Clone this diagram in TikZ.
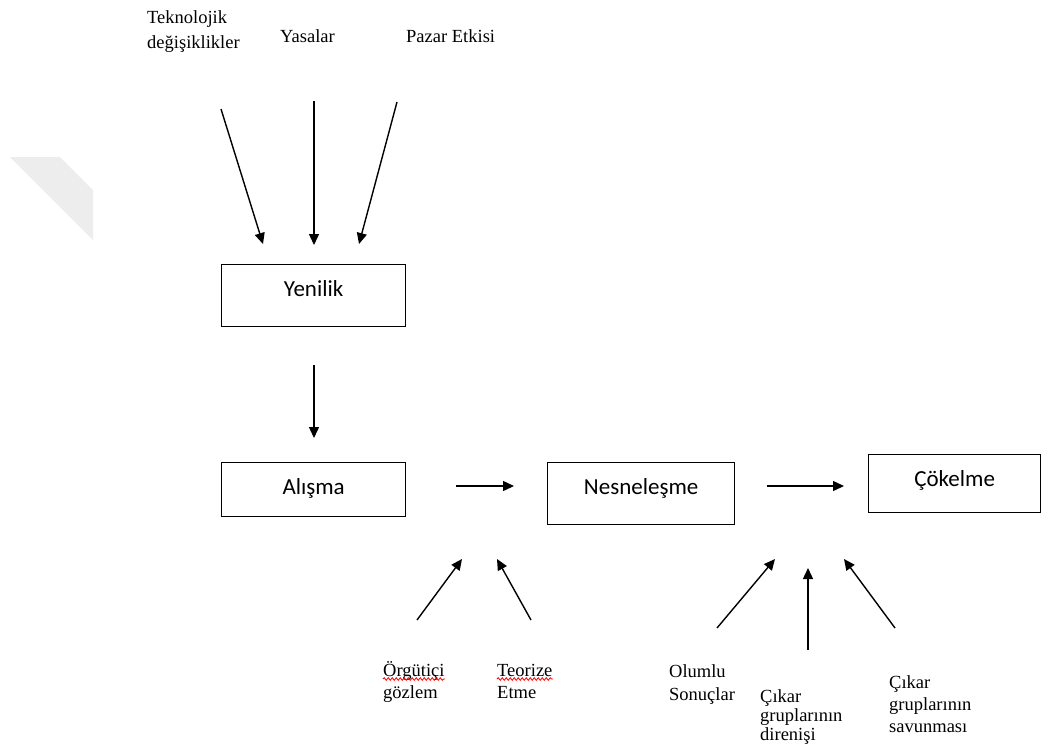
\documentclass[tikz,border=0pt]{standalone}
\usepackage{fontspec}
\setmainfont{Liberation Serif}
\newfontfamily\kutufont{Carlito}
\usetikzlibrary{arrows.meta,decorations.pathmorphing}
\begin{document}
\begin{tikzpicture}[x=1pt,y=-1pt,
  etiket/.style={anchor=base west, inner sep=0pt, align=left, font=\fontsize{18.5}{22}\selectfont},
  kutu/.style={draw, line width=1.3pt, anchor=north west, inner sep=0pt, text height=32pt, font=\kutufont\fontsize{23}{28}\selectfont},
  ok/.style={line width=1.4pt, -{Triangle[length=11pt,width=10pt]}},
  dalga/.style={red, line width=0.8pt, decorate, decoration={snake, amplitude=1.3pt, segment length=4pt}}]
\useasboundingbox (0,0) rectangle (1049,745);

% soluk filigran
\fill[black!7] (10,157) -- (60,157) -- (93,190) -- (93,240) -- cycle;

% ust etiketler (base = son satir)
\node[etiket, font=\fontsize{18.5}{25}\selectfont] (teknoloji) at (147,48) {Teknolojik\\değişiklikler};
\node[etiket] (yasalar) at (280,42) {Yasalar};
\node[etiket] (pazar) at (406,42) {Pazar Etkisi};

% kutular
\node[kutu, minimum width=184pt, text depth=30pt] (yenilik) at (221,264) {Yenilik};
\node[kutu, minimum width=184pt, text depth=22pt] (alisma) at (221,462) {Alışma};
\node[kutu, minimum width=187pt, text depth=30pt] (nesne) at (547,462) {Nesneleşme};
\node[kutu, minimum width=172pt, text depth=26pt] (cokelme) at (868,454) {Çökelme};

% alt etiketler
\node[etiket] (orgut) at (383,698) {Örgütiçi\\gözlem};
\node[etiket] (teori) at (497,698) {Teorize\\Etme};
\node[etiket, font=\fontsize{18.5}{23}\selectfont] (olumlu) at (669,700) {Olumlu\\Sonuçlar};
\node[etiket, font=\fontsize{18.5}{19}\selectfont] (direnis) at (760,740) {Çıkar\\gruplarının\\direnişi};
\node[etiket] (savunma) at (889,732) {Çıkar\\gruplarının\\savunması};

% yazim denetimi cizgileri
\draw[dalga] ([yshift=19pt]orgut.base west) -- ++(62,0);
\draw[dalga] ([yshift=19pt]teori.base west) -- ++(56,0);

% ok uclari
\coordinate (tek-a) at (221,109);  \coordinate (tek-b) at (263,244);
\coordinate (yas-a) at (314,101);  \coordinate (yas-b) at (314,245);
\coordinate (paz-a) at (397,102);  \coordinate (paz-b) at (359,244);
\coordinate (yen-a) at (314,365);  \coordinate (yen-b) at (314,438);
\coordinate (ali-a) at (456,486);  \coordinate (ali-b) at (514,486);
\coordinate (nes-a) at (767,486);  \coordinate (nes-b) at (844,486);
\coordinate (org-a) at (417,620);  \coordinate (org-b) at (462,559);
\coordinate (teo-a) at (531,620);  \coordinate (teo-b) at (497,559);
\coordinate (olu-a) at (717,628);  \coordinate (olu-b) at (775,559);
\coordinate (dir-a) at (808,650);  \coordinate (dir-b) at (808,568);
\coordinate (sav-a) at (895,628);  \coordinate (sav-b) at (844,559);

% oklar
\draw[ok] (tek-a) -- (tek-b);
\draw[ok] (yas-a) -- (yas-b);
\draw[ok] (paz-a) -- (paz-b);
\draw[ok] (yen-a) -- (yen-b);
\draw[ok] (ali-a) -- (ali-b);
\draw[ok] (nes-a) -- (nes-b);
\draw[ok] (org-a) -- (org-b);
\draw[ok] (teo-a) -- (teo-b);
\draw[ok] (olu-a) -- (olu-b);
\draw[ok] (dir-a) -- (dir-b);
\draw[ok] (sav-a) -- (sav-b);
\end{tikzpicture}
\end{document}
